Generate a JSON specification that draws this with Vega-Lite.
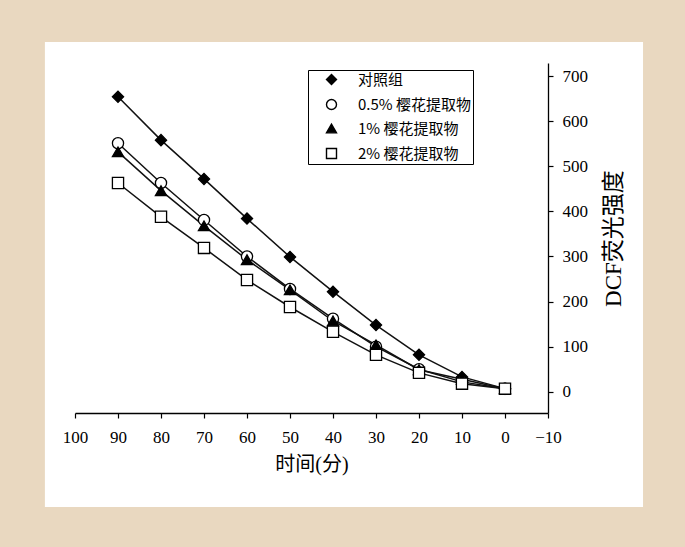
{
  "$schema": "https://vega.github.io/schema/vega-lite/v6.json",
  "width": 473,
  "height": 350,
  "autosize": {"type": "none"},
  "padding": {"left": 75, "top": 63, "right": 137, "bottom": 134},
  "background": "#e9d8c0",
  "config": {
    "view": {"stroke": null},
    "axis": {"labelFont": "Liberation Serif", "labelFontSize": 17, "labelColor": "#000", "titleFont": "Liberation Serif, Noto Sans CJK SC", "titleFontSize": 20, "titleFontWeight": "normal", "titleColor": "#000", "domainColor": "#000", "tickColor": "#000", "domainWidth": 1.3, "tickWidth": 1.2, "grid": false}
  },
  "datasets": {
    "frame": [{"k": 1}],
    "series": [
      {"group": "对照组", "time": 90, "value": 654},
      {"group": "对照组", "time": 80, "value": 558},
      {"group": "对照组", "time": 70, "value": 472},
      {"group": "对照组", "time": 60, "value": 384},
      {"group": "对照组", "time": 50, "value": 299},
      {"group": "对照组", "time": 40, "value": 222},
      {"group": "对照组", "time": 30, "value": 148},
      {"group": "对照组", "time": 20, "value": 82},
      {"group": "对照组", "time": 10, "value": 33},
      {"group": "对照组", "time": 0, "value": 7},
      {"group": "0.5% 樱花提取物", "time": 90, "value": 551},
      {"group": "0.5% 樱花提取物", "time": 80, "value": 463},
      {"group": "0.5% 樱花提取物", "time": 70, "value": 381},
      {"group": "0.5% 樱花提取物", "time": 60, "value": 300},
      {"group": "0.5% 樱花提取物", "time": 50, "value": 228},
      {"group": "0.5% 樱花提取物", "time": 40, "value": 162},
      {"group": "0.5% 樱花提取物", "time": 30, "value": 100},
      {"group": "0.5% 樱花提取物", "time": 20, "value": 50},
      {"group": "0.5% 樱花提取物", "time": 10, "value": 22},
      {"group": "0.5% 樱花提取物", "time": 0, "value": 7},
      {"group": "1% 樱花提取物", "time": 90, "value": 532},
      {"group": "1% 樱花提取物", "time": 80, "value": 446},
      {"group": "1% 樱花提取物", "time": 70, "value": 368},
      {"group": "1% 樱花提取物", "time": 60, "value": 293},
      {"group": "1% 樱花提取物", "time": 50, "value": 226},
      {"group": "1% 樱花提取物", "time": 40, "value": 157},
      {"group": "1% 樱花提取物", "time": 30, "value": 104},
      {"group": "1% 樱花提取物", "time": 20, "value": 49},
      {"group": "1% 樱花提取物", "time": 10, "value": 28},
      {"group": "1% 樱花提取物", "time": 0, "value": 7},
      {"group": "2% 樱花提取物", "time": 90, "value": 463},
      {"group": "2% 樱花提取物", "time": 80, "value": 388},
      {"group": "2% 樱花提取物", "time": 70, "value": 319},
      {"group": "2% 樱花提取物", "time": 60, "value": 248},
      {"group": "2% 樱花提取物", "time": 50, "value": 188},
      {"group": "2% 樱花提取物", "time": 40, "value": 133},
      {"group": "2% 樱花提取物", "time": 30, "value": 82},
      {"group": "2% 樱花提取物", "time": 20, "value": 42},
      {"group": "2% 樱花提取物", "time": 10, "value": 18},
      {"group": "2% 樱花提取物", "time": 0, "value": 7}
    ]
  },
  "layer": [
    {
      "data": {"name": "frame"},
      "mark": {"type": "rect", "color": "#ffffff"},
      "encoding": {
        "x": {"datum": 107, "type": "quantitative", "scale": {"domain": [-10, 100], "reverse": true, "nice": false, "zero": false},
          "axis": {"zindex": 1, "title": "时间(分)", "values": [-10, -5, 0, 5, 10, 15, 20, 25, 30, 35, 40, 45, 50, 55, 60, 65, 70, 75, 80, 85, 90, 95, 100], "labelExpr": "datum.value % 10 === 0 ? datum.label : ''", "tickSize": {"condition": {"test": "datum.value % 10 === 0", "value": 5}, "value": 3}, "labelPadding": 11, "titlePadding": 9, "labelFlush": false}},
        "x2": {"datum": -32.1},
        "y": {"datum": 775.6, "type": "quantitative", "scale": {"domain": [-47, 729], "nice": false, "zero": false},
          "axis": {"zindex": 1, "orient": "right", "title": "DCF荧光强度", "titleFontSize": 23, "titleAngle": 270, "values": [0, 50, 100, 150, 200, 250, 300, 350, 400, 450, 500, 550, 600, 650, 700], "labelExpr": "datum.value % 100 === 0 ? datum.label : ''", "tickSize": {"condition": {"test": "datum.value % 100 === 0", "value": 5}, "value": 3}, "labelPadding": 9, "titlePadding": 38}},
        "y2": {"datum": -255.4}
      }
    },
    {
      "data": {"name": "series"},
      "mark": {"type": "line", "color": "#111", "strokeWidth": 1.5},
      "encoding": {
        "x": {"field": "time", "type": "quantitative", "title": "时间(分)"},
        "y": {"field": "value", "type": "quantitative", "title": "DCF荧光强度"},
        "detail": {"field": "group"}
      }
    },
    {
      "data": {"name": "series"},
      "mark": {"type": "point", "filled": true, "stroke": "#000", "strokeWidth": 1.3, "size": 125, "opacity": 1},
      "encoding": {
        "x": {"field": "time", "type": "quantitative", "title": "时间(分)"},
        "y": {"field": "value", "type": "quantitative", "title": "DCF荧光强度"},
        "shape": {"field": "group", "type": "nominal", "scale": {"domain": ["对照组", "0.5% 樱花提取物", "1% 樱花提取物", "2% 樱花提取物"], "range": ["diamond", "circle", "triangle-up", "square"]},
          "legend": {"title": null, "orient": "none", "legendX": 233, "legendY": 7, "strokeColor": "#000", "padding": 2, "symbolSize": 100, "symbolOffset": 14, "symbolStrokeWidth": 1.4, "labelFont": "Noto Sans CJK SC", "labelFontSize": 15, "labelColor": "#000", "labelOffset": 19, "rowPadding": 8, "labelLimit": 300, "fillColor": "#fff"}},
        "fill": {"field": "group", "type": "nominal", "scale": {"domain": ["对照组", "0.5% 樱花提取物", "1% 樱花提取物", "2% 樱花提取物"], "range": ["#000", "#fff", "#000", "#fff"]}, "legend": null}
      }
    }
  ]
}
